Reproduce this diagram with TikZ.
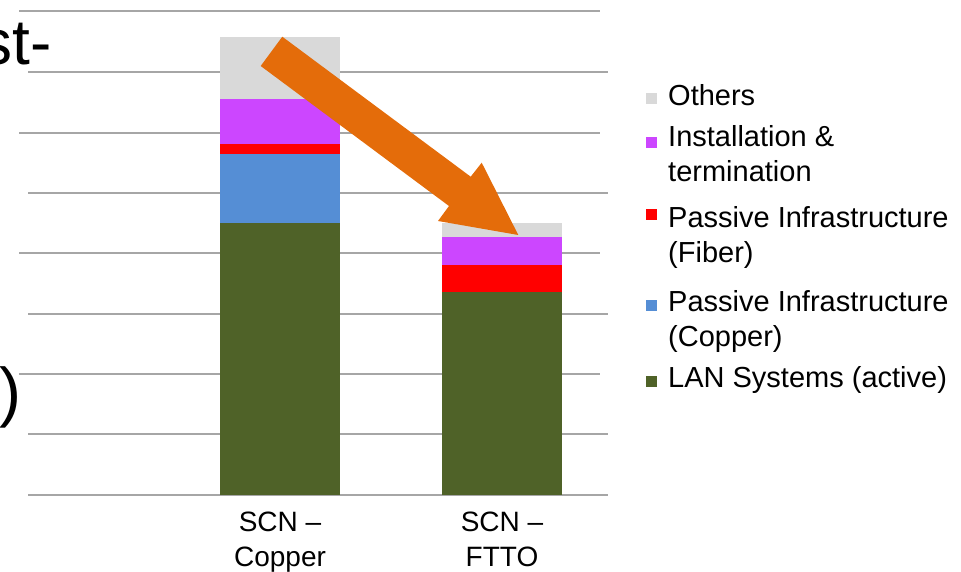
\documentclass[tikz,border=0pt]{standalone}
\usepackage{fontspec}
\setmainfont{Liberation Sans}
\usepackage{tikz}
\usetikzlibrary{positioning}
\definecolor{gridgray}{HTML}{A6A6A6}
\definecolor{othersfill}{HTML}{D9D9D9}
\definecolor{instfill}{HTML}{CC46FF}
\definecolor{fiberfill}{HTML}{FF0000}
\definecolor{copperfill}{HTML}{558ED5}
\definecolor{lanfill}{HTML}{4F6228}
\definecolor{arrowfill}{HTML}{E46C0A}
\tikzset{
  gridline/.style={draw=gridgray, line width=2pt},
  catlabel/.style={font=\fontsize{28}{35}\selectfont, align=center, anchor=base, inner sep=0pt},
  legtext/.style={font=\fontsize{29}{35}\selectfont, align=left, anchor=base west, inner sep=0pt},
  legkey/.style={minimum size=11pt, inner sep=0pt, anchor=south west},
  titlebit/.style={anchor=base east, inner sep=0pt}
}

\begin{document}
\begin{tikzpicture}[x=1pt, y=-1pt]
  \useasboundingbox (0,0) rectangle (961,572);
  \clip (0,0) rectangle (961,572);
  \foreach \y/\xa/\xb in {11/19/600, 72/28/608, 133/19/600, 193/28/608,
      253/19/600, 314/28/608, 374/19/600, 434/28/608, 495/28/608}{
    \draw[gridline] (\xa,\y) -- (\xb,\y);
  }
  \node[titlebit, font=\fontsize{64}{70}\selectfont] (titleTop) at (52,65) {st-};
  \node[titlebit, font=\fontsize{66}{72}\selectfont] (titleMid) at (22,414) {)};
  \begin{scope}[shift={(220,0)}]
    \foreach \lo/\hi/\col in {495/222.7/lanfill, 222.7/154/copperfill,
        154/144/fiberfill, 144/99/instfill, 99/36.7/othersfill}{
      \fill[\col] (0,\lo) rectangle (120,\hi);
    }
    \node[catlabel] (catCopper) at (60,566) {SCN –\\Copper};
  \end{scope}
  \begin{scope}[shift={(442,0)}]
    \foreach \lo/\hi/\col in {495/292/lanfill, 292/265/fiberfill,
        265/237/instfill, 237/222.7/othersfill}{
      \fill[\col] (0,\lo) rectangle (120,\hi);
    }
    \node[catlabel] (catFtto) at (60,566) {SCN –\\FTTO};
  \end{scope}
  \coordinate (tailTop) at (282.3,36.7);
  \coordinate (tailBot) at (260.7,66);
  \coordinate (shaftBot) at (449,206);
  \coordinate (barbBot) at (438,221);
  \coordinate (tip) at (518.3,235);
  \coordinate (barbTop) at (481.7,162.7);
  \coordinate (shaftTop) at (470.7,176.7);
  \fill[arrowfill] (tailTop) -- (tailBot) -- (shaftBot) -- (barbBot) -- (tip)
    -- (barbTop) -- (shaftTop) -- cycle;
  \foreach \name/\col/\ky/\ty/\txt in {
      Others/othersfill/104/106/{Others},
      Inst/instfill/148.3/182/{Installation \&\\termination},
      Fiber/fiberfill/220.7/262/{Passive Infrastructure\\(Fiber)},
      Copper/copperfill/311/346/{Passive Infrastructure\\(Copper)},
      Lan/lanfill/387.3/387.3/{LAN Systems (active)}}{
    \node[legkey, fill=\col] (key\name) at (646,\ky) {};
    \node[legtext] (leg\name) at (668,\ty) {\txt};
  }
\end{tikzpicture}
\end{document}
